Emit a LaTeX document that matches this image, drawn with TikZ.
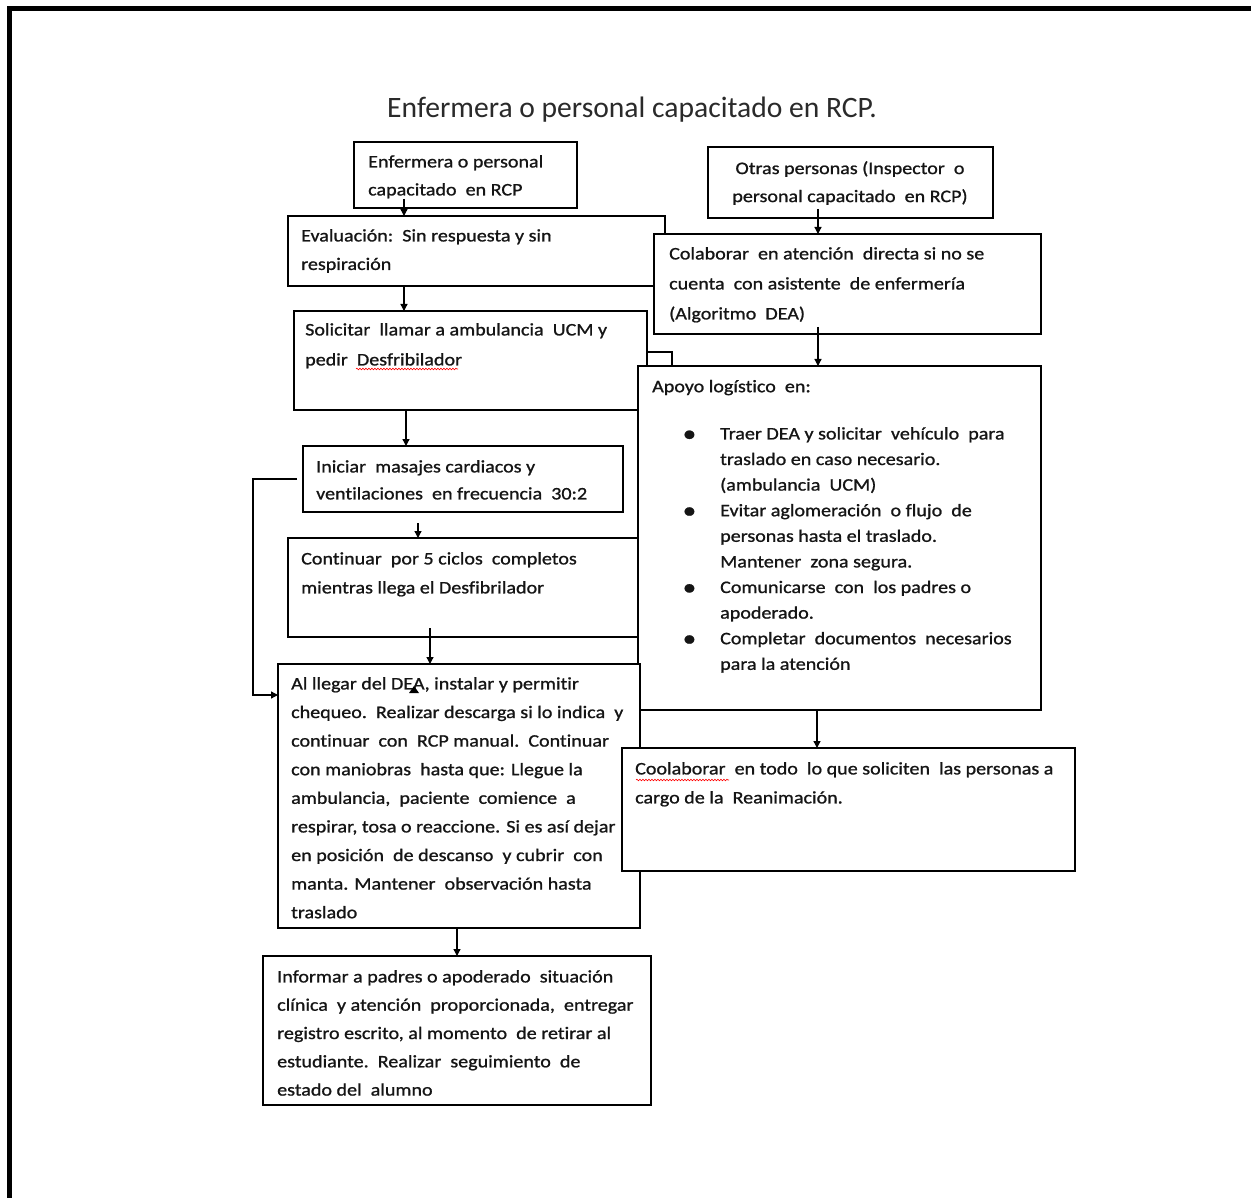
\documentclass[tikz,border=0pt]{standalone}
\usepackage{fontspec}
\setmainfont{Carlito}[Ligatures={NoCommon}]
\newfontfamily\boxfnt[FakeStretch=1.14,FakeBold=1.0,Ligatures={NoCommon}]{Carlito}
\newcommand\bxf[1]{\boxfnt\fontsize{17.6}{#1}\selectfont}
\newcommand\bul{\llap{\raisebox{-2.0pt}{\scalebox{1.35}{•}}\hspace{24pt}}}
\usetikzlibrary{arrows.meta,decorations.pathmorphing}
\definecolor{ink}{HTML}{151515}
\definecolor{titleink}{HTML}{2A2A2A}
\begin{document}
\begin{tikzpicture}[x=1pt,y=-1pt,
  box/.style={draw=black, line width=1.8pt, fill=white, anchor=north west, inner sep=0pt, outer sep=0pt},
  txt/.style={anchor=north west, inner sep=0pt, align=left, text=ink, execute at begin node={\rule{0pt}{15pt}}},
  arr/.style={draw=black, line width=1.3pt, -{Triangle[length=7pt,width=7pt]}},
  wavy/.style={draw=red, line width=0.6pt, decorate, decoration={snake, amplitude=0.8pt, segment length=3pt}}
]
\useasboundingbox (0,0) rectangle (1251,1198);
\fill[white] (0,0) rectangle (1251,1198);
% frame
\draw[line width=5.5pt, line join=miter] (9.5,1215) -- (9.5,8.3) -- (1265,8.3);

% title
\node[anchor=base, inner sep=0pt, text=titleink, font=\fontsize{29.6}{34}\selectfont] (title) at (632,118) {Enfermera o personal capacitado en RCP.};

% left column boxes
\node[box, minimum width=223pt, minimum height=66pt] (b1) at (354,142) {};
\node[txt, font=\bxf{28}] (t1) at (368,155) {Enfermera o personal\\capacitado\ \ en RCP};

\node[box, minimum width=377pt, minimum height=70pt] (b2) at (288,216) {};
\node[txt, font=\bxf{28.5}] (t2) at (301,229) {Evaluación:\ \ Sin respuesta y sin\\respiración};

% right top boxes
\node[box, minimum width=285pt, minimum height=71pt] (oth) at (708,147) {};
\node[txt, anchor=north, align=center, font=\bxf{28}] (toth) at (850,161) {Otras personas (Inspector\ \ o\\personal capacitado\ \ en RCP)};

\node[box, minimum width=387pt, minimum height=100pt] (col) at (654,234) {};
\node[txt, font=\bxf{30}] (tcol) at (669,247) {Colaborar\ \ en atención\ \ directa si no se\\cuenta\ \ con asistente\ \ de enfermería\\(Algoritmo\ \ DEA)};

\node[box, minimum width=353pt, minimum height=99pt] (b3) at (294,311) {};
\node[txt, font=\bxf{30}] (t3) at (305,323) {Solicitar\ \ llamar a ambulancia\ \ UCM y\\pedir\ \ Desfribilador};
\draw[wavy] (356,369) -- (458,369);

\node[box, minimum width=25pt, minimum height=28pt] (sm) at (647,352) {};

\node[box, minimum width=403pt, minimum height=344pt] (apo) at (638,366) {};
\node[txt, font=\bxf{28}] (tapo) at (652,377) {Apoyo logístico\ \ en:};
\node[txt, font=\bxf{25.6}] (tbul) at (720,427) {%
\bul Traer DEA y solicitar\ \ vehículo\ \ para\\
traslado en caso necesario.\\
(ambulancia\ \ UCM)\\
\bul Evitar aglomeración\ \ o flujo\ \ de\\
personas hasta el traslado.\\
Mantener\ \ zona segura.\\
\bul Comunicarse\ \ con\ \ los padres o\\
apoderado.\\
\bul Completar\ \ documentos\ \ necesarios\\
para la atención};

\node[box, minimum width=320pt, minimum height=66pt] (ini) at (303,446) {};
\node[txt, font=\bxf{27}] (tini) at (316,460) {Iniciar\ \ masajes cardiacos y\\ventilaciones\ \ en frecuencia\ \ 30:2};

\node[box, minimum width=350pt, minimum height=99pt] (cont) at (288,538) {};
\node[txt, font=\bxf{29}] (tcont) at (301,552) {Continuar\ \ por 5 ciclos\ \ completos\\mientras llega el Desfibrilador};

\node[box, minimum width=362pt, minimum height=264pt] (all) at (278,664) {};
\node[txt, font=\bxf{28.6}] (tall) at (291,677) {Al llegar del DEA, instalar y permitir\\chequeo.\ \ Realizar descarga si lo indica\ \ y\\continuar\ \ con\ \ RCP manual.\ \ Continuar\\con maniobras\ \ hasta que: Llegue la\\ambulancia,\ \ paciente\ \ comience\ \ a\\respirar, tosa o reaccione. Si es así dejar\\en posición\ \ de descanso\ \ y cubrir\ \ con\\manta. Mantener\ \ observación hasta\\traslado};
\fill[black] (409,693) -- (419,693) -- (414,686) -- cycle;

\node[box, minimum width=453pt, minimum height=123pt] (cool) at (622,748) {};
\node[txt, font=\bxf{29}] (tcool) at (635,762) {Coolaborar\ \ en todo\ \ lo que soliciten\ \ las personas a\\cargo de la\ \ Reanimación.};
\draw[wavy] (636,780) -- (729,780);

\node[box, minimum width=388pt, minimum height=149pt] (inf) at (263,956) {};
\node[txt, font=\bxf{28.3}] (tinf) at (277,970) {Informar a padres o apoderado\ \ situación\\clínica\ \ y atención\ \ proporcionada,\ \ entregar\\registro escrito, al momento\ \ de retirar al\\estudiante.\ \ Realizar\ \ seguimiento\ \ de\\estado del\ \ alumno};

% arrow columns
\coordinate (c404) at (404,0);
\coordinate (c406) at (406,0);
\coordinate (c418) at (418,0);
\coordinate (c430) at (430,0);
\coordinate (c457) at (457,0);
\coordinate (c818) at (818,0);
\coordinate (c817) at (817,0);
\coordinate (lp) at (253,695);

\draw[arr, shorten <=-9pt] (b1.south -| c404) -- (b2.north -| c404);
\draw[arr] (b2.south -| c404) -- (b3.north -| c404);
\draw[arr] (b3.south -| c406) -- (ini.north -| c406);
\draw[arr, shorten <=11pt] (ini.south -| c418) -- (cont.north -| c418);
\draw[arr, shorten <=-9pt] (cont.south -| c430) -- (all.north -| c430);
\draw[arr] (all.south -| c457) -- (inf.north -| c457);
\draw[arr, shorten <=-9pt] (oth.south -| c818) -- (col.north -| c818);
\draw[arr, shorten <=-7pt] (col.south -| c818) -- (apo.north -| c818);
\draw[arr] (apo.south -| c817) -- (cool.north -| c817);
\draw[arr] ([xshift=-6pt]ini.west) -- (ini.west -| lp) -- (lp) -- (lp -| all.west);
\end{tikzpicture}
\end{document}
